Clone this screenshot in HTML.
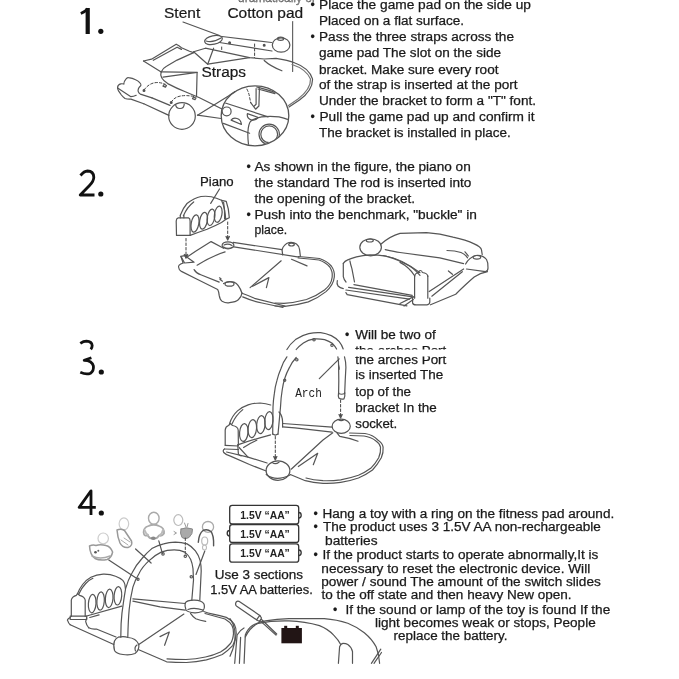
<!DOCTYPE html>
<html><head><meta charset="utf-8">
<style>
html,body{margin:0;padding:0;background:#fff;}
body{width:679px;height:679px;overflow:hidden;position:relative;}
svg{position:absolute;left:0;top:0;will-change:transform;}
.t{font-family:"Liberation Sans",sans-serif;font-size:12.3px;fill:#1a1a1a;stroke:#1a1a1a;stroke-width:0.25;}
.l{font-family:"Liberation Sans",sans-serif;font-size:14px;fill:#1a1a1a;stroke:#1a1a1a;stroke-width:0.2;}
.m{font-family:"Liberation Mono",monospace;font-size:12px;fill:#222;}
.b{font-family:"Liberation Sans",sans-serif;font-size:10px;font-weight:bold;fill:#222;}
.d{fill:none;stroke:#555;stroke-width:1.2;stroke-linecap:round;stroke-linejoin:round;}
.dd{fill:none;stroke:#444;stroke-width:1;stroke-dasharray:2.5 2;}
.n{fill:none;stroke:#111;stroke-width:2.8;stroke-linecap:butt;stroke-linejoin:round;}
</style></head>
<body>
<svg width="679" height="679" viewBox="0 0 679 679">
<!-- ===== step numbers ===== -->
<g id="nums">
  <path class="n" d="M80.8,13.5 Q85,11.8 87.8,8.6"/>
  <rect x="85.6" y="8" width="4.2" height="26" fill="#111"/>
  <circle cx="100.8" cy="31.3" r="2.6" fill="#111"/>
  <path class="n" d="M80.5,175.5 Q84,171.2 87.5,171 Q93.6,171.2 93.8,177.2 Q93.8,181 89.5,185.5 L80.2,195 L94.5,195"/>
  <circle cx="100.8" cy="194" r="2.6" fill="#111"/>
  <path class="n" d="M80.3,343.4 Q83.5,341.2 86.5,341.2 Q91.8,341.5 92.2,345.6 Q92.2,347.6 90.8,349.3"/>
  <path class="n" d="M91.4,357.8 L84.2,360.3 Q92.2,360.5 93.4,366 Q94,371 90.5,373.2 Q86.5,375 80.3,372.3"/>
  <circle cx="101.3" cy="372" r="2.6" fill="#111"/>
  <path class="n" d="M91,515 L91,490.8 L79.2,507.4 L95.8,507.4"/>
  <circle cx="101.3" cy="513" r="2.6" fill="#111"/>
</g>

<!-- ===== text section 1 ===== -->
<g id="txt1">
  <text class="t" x="238" y="1.8" textLength="78" lengthAdjust="spacingAndGlyphs" style="fill:#999">dramatically or</text>
  <text class="t" x="310.5" y="8.7">•</text>
  <text class="t" x="319" y="8.7" textLength="212" lengthAdjust="spacingAndGlyphs">Place the game pad on the side up</text>
  <text class="t" x="319" y="24.6" textLength="145" lengthAdjust="spacingAndGlyphs">Placed on a flat surface.</text>
  <text class="t" x="310.5" y="40.9">•</text>
  <text class="t" x="319" y="40.9" textLength="195" lengthAdjust="spacingAndGlyphs">Pass the three straps across the</text>
  <text class="t" x="319" y="57.4" textLength="182" lengthAdjust="spacingAndGlyphs">game pad The slot on the side</text>
  <text class="t" x="319" y="73.9" textLength="179.5" lengthAdjust="spacingAndGlyphs">bracket. Make sure every root</text>
  <text class="t" x="319" y="89.4" textLength="198.6" lengthAdjust="spacingAndGlyphs">of the strap is inserted at the port</text>
  <text class="t" x="319" y="104.9" textLength="217" lengthAdjust="spacingAndGlyphs">Under the bracket to form a "T" font.</text>
  <text class="t" x="310.5" y="121.1">•</text>
  <text class="t" x="319.5" y="121.1" textLength="215" lengthAdjust="spacingAndGlyphs">Pull the game pad up and confirm it</text>
  <text class="t" x="319" y="136.5" textLength="191.7" lengthAdjust="spacingAndGlyphs">The bracket is installed in place.</text>
  <text class="l" x="164" y="17.7" textLength="36.2" lengthAdjust="spacingAndGlyphs">Stent</text>
  <text class="l" x="227.4" y="17.5" textLength="75.8" lengthAdjust="spacingAndGlyphs">Cotton pad</text>
  <text class="l" x="201.5" y="77.3" textLength="44.5" lengthAdjust="spacingAndGlyphs">Straps</text>
</g>

<!-- ===== text section 2 ===== -->
<g id="txt2">
  <text class="t" x="246.5" y="170.9">•</text>
  <text class="t" x="254.5" y="170.9" textLength="216.2" lengthAdjust="spacingAndGlyphs">As shown in the figure, the piano on</text>
  <text class="t" x="254.5" y="187.2" textLength="216.9" lengthAdjust="spacingAndGlyphs">the standard The rod is inserted into</text>
  <text class="t" x="254.5" y="202.9" textLength="160.5" lengthAdjust="spacingAndGlyphs">the opening of the bracket.</text>
  <text class="t" x="246.5" y="218.6">•</text>
  <text class="t" x="254.5" y="218.6" textLength="222.4" lengthAdjust="spacingAndGlyphs">Push into the benchmark, "buckle" in</text>
  <text class="t" x="254.5" y="234.1" textLength="32.7" lengthAdjust="spacingAndGlyphs">place.</text>
  <text class="t" x="200" y="186.3" textLength="33.7" lengthAdjust="spacingAndGlyphs">Piano</text>
</g>

<!-- ===== text section 3 ===== -->
<g id="txt3">
  <text class="t" x="345" y="339.4">•</text>
  <text class="t" x="355.3" y="339.4" textLength="80.4" lengthAdjust="spacingAndGlyphs">Will be two of</text>
  <clipPath id="cA"><rect x="340" y="340" width="120" height="9.5"/></clipPath>
  <clipPath id="cB"><rect x="340" y="356.5" width="120" height="12"/></clipPath>
  <text class="t" clip-path="url(#cA)" x="355.3" y="355" textLength="91" lengthAdjust="spacingAndGlyphs">the arches Port</text>
  <text class="t" clip-path="url(#cB)" x="355.3" y="363.5" textLength="91" lengthAdjust="spacingAndGlyphs">the arches Port</text>
  <text class="t" x="355.3" y="379.4" textLength="87.9" lengthAdjust="spacingAndGlyphs">is inserted The</text>
  <text class="t" x="355.3" y="395.6" textLength="55.7" lengthAdjust="spacingAndGlyphs">top of the</text>
  <text class="t" x="355.3" y="412" textLength="81.3" lengthAdjust="spacingAndGlyphs">bracket In the</text>
  <text class="t" x="355.3" y="428" textLength="41.9" lengthAdjust="spacingAndGlyphs">socket.</text>
  <text class="m" x="295.2" y="396.5" textLength="26.7" lengthAdjust="spacingAndGlyphs">Arch</text>
</g>

<!-- ===== text section 4 ===== -->
<g id="txt4">
  <text class="t" x="313.5" y="518">•</text>
  <text class="t" x="322.5" y="518" textLength="291.7" lengthAdjust="spacingAndGlyphs">Hang a toy with a ring on the fitness pad around.</text>
  <text class="t" x="313.5" y="531.3">•</text>
  <text class="t" x="323" y="531.3" textLength="277.8" lengthAdjust="spacingAndGlyphs">The product uses 3 1.5V AA non-rechargeable</text>
  <text class="t" x="325" y="544.6" textLength="52.6" lengthAdjust="spacingAndGlyphs">batteries</text>
  <text class="t" x="313.5" y="558.9">•</text>
  <text class="t" x="322.5" y="558.9" textLength="275.9" lengthAdjust="spacingAndGlyphs">If the product starts to operate abnormally,It is</text>
  <text class="t" x="321.3" y="572.7" textLength="268.9" lengthAdjust="spacingAndGlyphs">necessary to reset the electronic device. Will</text>
  <text class="t" x="321.3" y="586.4" textLength="279.5" lengthAdjust="spacingAndGlyphs">power / sound The amount of the switch slides</text>
  <text class="t" x="321.6" y="599.4" textLength="250" lengthAdjust="spacingAndGlyphs">to the off state and then heavy New open.</text>
  <text class="t" x="333" y="613.8">•</text>
  <text class="t" x="345.4" y="613.8" textLength="264.8" lengthAdjust="spacingAndGlyphs">If the sound or lamp of the toy is found If the</text>
  <text class="t" x="375" y="627.3" textLength="220.7" lengthAdjust="spacingAndGlyphs">light becomes weak or stops, People</text>
  <text class="t" x="393.6" y="639.9" textLength="113.9" lengthAdjust="spacingAndGlyphs">replace the battery.</text>
  <text class="t" x="214.7" y="578.6" textLength="88.4" lengthAdjust="spacingAndGlyphs">Use 3 sections</text>
  <text class="t" x="210.3" y="593.7" textLength="102.5" lengthAdjust="spacingAndGlyphs">1.5V AA batteries.</text>
  <!-- batteries -->
  <g fill="none" stroke="#333" stroke-width="1.3">
    <rect x="229.7" y="505.3" width="69" height="18.6" rx="2.5"/>
    <rect x="229.7" y="524.7" width="69" height="17.7" rx="2.5"/>
    <rect x="229.7" y="543.8" width="69" height="18.4" rx="2.5"/>
    <path d="M298.7,512.5 q2.5,0 2.5,2.8 q0,2.8 -2.5,2.8"/>
    <path d="M229.7,530.5 q-2.5,0 -2.5,2.8 q0,2.8 2.5,2.8"/>
    <path d="M298.7,550 q2.5,0 2.5,2.8 q0,2.8 -2.5,2.8"/>
  </g>
  <text class="b" x="240.3" y="518.6" textLength="49.5" lengthAdjust="spacingAndGlyphs">1.5V “AA”</text>
  <text class="b" x="240.3" y="537.6" textLength="49.5" lengthAdjust="spacingAndGlyphs">1.5V “AA”</text>
  <text class="b" x="240.3" y="556.6" textLength="49.5" lengthAdjust="spacingAndGlyphs">1.5V “AA”</text>
</g>

<!-- ===== drawings ===== -->
<g id="draw1" class="d">
  <!-- leaders -->
  <path d="M183,22 L219.5,35.5"/>
  <path d="M292.6,21.5 L292.6,71.5" stroke="#666"/>
  <!-- stent piece -->
  <ellipse cx="213.5" cy="40" rx="9" ry="4.3" transform="rotate(-12 213.5 40)"/>
  <path d="M206,41 Q213,43 221,38"/>
  <!-- upper bar -->
  <path d="M222,36.5 L271.5,42.5"/>
  <path d="M219.5,42.5 L272,51"/>
  <circle cx="229.6" cy="42.8" r="0.9" fill="#333"/>
  <circle cx="264.2" cy="45.2" r="0.9" fill="#333"/>
  <path class="dd" d="M254.6,44 L254.6,57.6"/>
  <path class="dd" d="M221.7,47 L221.7,50.5"/>
  <!-- right ball -->
  <ellipse cx="281.1" cy="45" rx="8.8" ry="7.2"/>
  <ellipse cx="280.6" cy="38.8" rx="3" ry="1.6"/>
  <!-- flap -->
  <path d="M143.5,61 L151.5,59.2 L176.2,44.2 Q179,45.5 181.5,47.7 L189.5,51.3 L193.6,52.6"/>
  <path d="M153.3,60.3 L177.1,47.2 L181.5,49.4"/>
  <path d="M143.5,61 L161.2,72"/>
  <path d="M161.2,72 Q163,68 166.5,66.3 L177.1,60.1 L193.6,52.6"/>
  <!-- mat top edge -->
  <path d="M193.6,51.8 L205.4,48.2 L249.5,57.6 L264.2,59 L276,58.3 Q288,60 295,63 Q309,68 312.5,78.9 Q313,90 299.5,100 L289,107"/>
  <path d="M292,64.5 Q306,69 310.5,79 Q311,89 298,99 L288.5,105.5" stroke="#777"/>
  <path d="M264.2,60.5 Q270,66 281.9,70.8"/>
  <!-- straps -->
  <path d="M193.6,51.8 L207.7,64.2 L213.6,48.2"/>
  <path d="M207.7,64.2 L249.5,57.6"/>
  <path d="M161.8,71.8 L197.1,72.4 L163,77.1"/>
  <path d="M197.1,72.4 L196.5,96.6"/>
  <!-- front-left mat curve -->
  <path d="M161.2,71.8 Q159,78 167.7,83.6 Q176,88 185.3,91.8 L199.5,97.7 L216,106 L222,109"/>
  <path d="M164,84.5 l2.5,1 l-1,1.6 l-2.5,-1 z"/>
  <path d="M193.5,97 l2.5,1 l-1,1.6 l-2.5,-1 z"/>
  <path class="dd" d="M144,90 Q152,79 165.3,84.2"/>
  <path class="dd" d="M171.2,102.4 Q176,93 194.8,96.6"/>
  <circle cx="144" cy="90.5" r="0.9" fill="#333"/>
  <circle cx="171.2" cy="102.4" r="0.9" fill="#333"/>
  <!-- foot pad -->
  <path d="M117.6,87.3 Q117.8,84.5 120.8,83.8 Q123,83.6 123.8,84.1 Q124,81 126.1,78.8 Q127.5,77.4 128.5,77.6 Q132.5,78 135.6,79.7 Q138.5,81 139.7,82.6 Q141.5,84.5 140.9,85.5 Q139,87 138.5,88.5 Q137.8,90.5 138.2,91.4 Q139,93.3 140.3,94.1 L152,97.9"/>
  <path d="M117.6,87.3 Q117.5,89.5 118.5,90.9 Q120,93 121.4,95 Q123,97 125,98.5 Q127.5,99.4 130.9,99.1 L143.8,103.8"/>
  <path d="M117.6,87.9 L130.9,96.7 Q133.5,96.5 136.2,95.3"/>
  <!-- arm -->
  <path d="M152,97.9 L170,105.4"/>
  <path d="M143.8,103.8 L168.9,115.4"/>
  <!-- ball -->
  <circle cx="182" cy="116" r="13.3"/>
  <path d="M175.6,104.5 Q176,108.5 180,108.5 Q184,108.5 184.2,104.2"/>
  <!-- lines to magnifier -->
  <path d="M197.5,115.2 L228.4,96 L235,91.6"/>
  <path d="M197.5,115.2 L221.1,118.5"/>
  <!-- magnifier -->
  <ellipse cx="255" cy="115.8" rx="33.8" ry="30" stroke-width="1.3"/>
  <clipPath id="mag"><ellipse cx="255" cy="115.8" rx="33.3" ry="29.5"/></clipPath>
  <g clip-path="url(#mag)">
  <path d="M224.5,102.7 L268.1,116.9"/>
  <path d="M223.4,123.4 L249.6,133.2"/>
  <path d="M248.5,144.5 Q247.5,136 248,131 Q248.5,124 250.7,121.2 Q255,118 261.6,116.9 Q270,115.8 279,116.9 Q284,118 288.3,119.6"/>
  <circle cx="269.2" cy="134.3" r="10.2"/>
  <circle cx="269.2" cy="134.3" r="8.4"/>
  <circle cx="226.7" cy="111.4" r="4.4"/>
  <path d="M231.1,120.1 Q233,117.5 237,118.5 Q241,119.5 241.4,124.5 Z"/>
  <path d="M247.4,113.6 Q246.5,118.5 251.8,120.1 Q256,120.5 258.3,117.5 Z"/>
  <path d="M256.1,88.5 L256.1,104.3 L254.3,106"/>
  <path d="M259.4,88.5 L258.9,106 L255.6,109.2 L250.7,102.7"/>
  <path class="dd" d="M246.9,89.1 Q249,93 249.6,97.3 L250.7,102.7"/>
  <path d="M256.7,86.9 L275.8,92.4 M258,89 L275,93.6"/>
  </g>
</g>
<g id="draw2" class="d">
  <!-- piano -->
  <path d="M219.5,189 L210.7,203.4"/>
  <path d="M180.3,215.3 Q183,208 187,203.5 Q194,198 201,196.5 Q210,195.5 216.4,198.2 L221.5,200.3"/>
  <path d="M183.4,215.8 Q187,207 193.7,201.9"/>
  <path d="M180.3,215.3 L180.3,217.8 M183.9,215.5 L183.9,217.8"/>
  <path d="M178.2,217.8 L188.5,217.8 Q190.1,218.5 190.1,221 L190.1,235.4 L176.5,235.4 L176.2,221 Q176.3,218.3 178.2,217.8 Z"/>
  <ellipse cx="195" cy="223.5" rx="3.8" ry="8.8" transform="rotate(10 195 223.5)"/>
  <ellipse cx="203.5" cy="220.7" rx="3.8" ry="8.5" transform="rotate(10 203.5 220.7)"/>
  <ellipse cx="211" cy="217.3" rx="3.7" ry="8.3" transform="rotate(10 211 217.3)"/>
  <ellipse cx="218.2" cy="214.2" rx="3.7" ry="8.2" transform="rotate(10 218.2 214.2)"/>
  <path d="M221.5,200.3 L226.2,201.3 Q229,209 229.3,217.8 L225.7,219.4 Q225,208 221.5,200.3 Z"/>
  <path d="M223.6,202.4 Q225,210 224.6,218.9"/>
  <path d="M190.1,235.4 Q199,232 207.1,229.2 Q215,226 221.5,222.5 L225.7,219.4"/>
  <path class="dd" d="M186,238.5 L186,256"/>
  <path d="M184.3,254.5 L186,258 L187.7,254.5" fill="#444"/>
  <path class="dd" d="M227.7,222 L227.7,237"/>
  <path d="M226,236.5 L227.7,240 L229.4,236.5" fill="#444"/>
  <!-- left mat -->
  <path d="M180.9,256.4 L184.6,255.6 L194.1,262.2 L184.6,263 Z"/>
  <path d="M180.9,256.4 L183.1,263"/>
  <path d="M186,257.8 L195.6,251.2 L211.1,241.6 L223.6,248.3"/>
  <ellipse cx="228" cy="245.3" rx="5.9" ry="3.5"/>
  <path d="M224,245 Q228,243 232,245.5 M223.5,247 Q228,249.5 233,247"/>
  <path d="M233.2,242.4 L282,249.7"/>
  <path d="M233.9,246.8 L298.9,257.1"/>
  <path d="M183.1,263 Q177.5,265 178.7,267.5 Q179,270 180.9,271.1 L197.1,279.2 L217.7,289.5 Q219,292 219.2,295.4 Q220,300 222.1,301.3 Q226,303.5 229.5,302.7 Q236,302 238.3,299.8 Q241.5,297 242,293.2"/>
  <path d="M223.6,283.6 Q228,281 233.9,282.1 Q239,284 242,293.2"/>
  <ellipse cx="229.5" cy="283.9" rx="4.5" ry="2.2"/>
  <path d="M242,293.2 Q250,296 254.5,298.3 L285,306"/>
  <path d="M242.7,296.9 Q252,301 262,303 L283,307.5"/>
  <path d="M197.1,265.2 Q212,256 225.1,251.9"/>
  <path d="M194.1,269.6 Q196,273 200.8,274.8 L219.2,282.1"/>
  <path d="M220,279.5 L222.5,281.2 M219.5,277.8 L221,278.8"/>
  <path d="M281.2,260.8 L250.1,287.6"/>
  <path d="M252.6,286.3 L268.9,277.6 L266.4,287.6"/>
  <path d="M282.7,254.9 L282,249.7 Q284,244 289,242.5 Q293.5,241.8 296.5,244 Q299.6,246.5 299.6,249.7 L300.4,256.4"/>
  <ellipse cx="291.5" cy="244.6" rx="2.8" ry="1.4"/>
  <path d="M298.2,256.5 Q310,257.5 319.5,258.5 Q327,261 331.3,266 Q335,271 334.3,277 Q333.5,285 326,291.6 Q318,298 308.3,301.9 Q296,305.5 284.7,306.3 L275,306"/>
  <path d="M298.2,258 Q310,258.8 319,260 Q326,262.5 329.8,267 Q332.8,271.5 332.2,277 Q331.5,284.5 324.5,290 Q316.5,296 306.5,299.5 Q294.5,302.7 284,303.3 L275,303"/>
  <path d="M291.5,259.3 L307,265.9"/>
  <!-- right mat -->
  <ellipse cx="370.6" cy="247.3" rx="10.8" ry="8.5"/>
  <ellipse cx="369.8" cy="240.5" rx="3.5" ry="1.5"/>
  <path d="M380.8,244.2 Q390,236 400,233.3 L426.5,232.6 Q440,233.5 453,237.2 Q466,240 474.2,243.9 Q481,247 481.5,249.8 L482.2,254.5"/>
  <path d="M385.2,249.7 Q395,252 400,252.5 L439.8,257.8 L463.6,263.7"/>
  <path d="M447,250.5 Q455,250.5 461,252.5 Q465,254 467.6,257.8"/>
  <path d="M465,251.8 Q467,254 468.3,256"/>
  <path d="M465.6,264 Q469,257.5 476,255.5 Q483,255 486.5,259.5 Q488.5,263 488,268 Q488,271 485.5,271.7 L466.5,269"/>
  <ellipse cx="476.9" cy="257.3" rx="3.8" ry="1.8"/>
  <path d="M343.3,263.4 Q345,261 347.2,260.1 Q351.5,258 356.5,256.8 Q363,255.2 369.8,254.8 Q378,254.8 385.7,256.2 Q392.5,258 398.9,260.8 Q404.5,263.3 409.5,266.1 Q413.5,268.6 416.2,271.4 L420,275.4"/>
  <path d="M383,255.5 Q394,257.5 402,261.5 Q412,266.5 420,272.7"/>
  <path d="M343.3,263.4 L343.3,276.7 Q344,280 346,282"/>
  <path d="M349.9,260.8 Q350.5,264 351.9,268.7 L354.5,282"/>
  <path d="M337.3,280.7 Q336.5,284 338,286 Q340,288 343.3,288.6"/>
  <path d="M345.9,290 L409.5,299.2"/>
  <path d="M345.9,292.6 L347.2,294.6 L406.9,305.9"/>
  <path d="M353.9,284.6 L412.2,295.3"/>
  <path d="M348.6,287.3 Q380,292 414.6,297.2"/>
  <path d="M414.6,275.7 L414.6,298.2 M427.8,275.7 L427.8,298.2"/>
  <path d="M414.6,276.5 Q415,273 418.5,272.5 Q419,270.5 420.5,270.5 Q422,270.5 422.3,272.5 Q427.5,273 427.8,276.5"/>
  <path d="M412.6,298.2 L412.6,303 Q413,304.8 416,304.8 L427,304.8 Q429.8,304.5 429.8,302 L429.8,298.2"/>
  <path d="M429.2,291.6 L463.6,269"/>
  <path d="M431.8,296.2 L462.3,271.7"/>
  <path d="M448.4,271 L452.4,274.3"/>
  <path d="M430.5,304.8 Q444,299 455.7,294.2 Q466,284 474.2,277 Q480,273 487.5,271.7"/>
  <path d="M400,262.4 Q409,267 414.6,275.7"/>
  <path d="M400,303.5 L413.3,296.9 M404,306 L413.3,299.5"/>
</g>
<g id="draw3" class="d">
  <!-- arch top (above glitch) -->
  <path d="M286.9,349.5 Q290,344 295.5,339.6 Q302,335 308.7,333.6 Q315,332.3 320.7,332.7 Q326,333.5 331.3,335.6 Q336,338 339.2,341.6 Q342,345 343.2,349"/>
  <path d="M296.2,349.5 Q299,346 303.4,342.9 Q308,340 314,338.9 Q319,338.5 324.6,339.6 Q329,341 332.6,343.6 Q335,346 336.6,349"/>
  <circle cx="314" cy="339.8" r="1.2"/>
  <circle cx="332" cy="345.3" r="1.2"/>
  <!-- arch legs (below glitch) -->
  <path d="M286.9,356.8 Q283,362 280.9,368.7 Q278.5,374 276.9,380.7 Q275,387 274.3,393.9 Q273.3,400 273,407 L272.7,434.1"/>
  <path d="M296.2,357.5 Q292,362 289.5,367.4 Q286.5,373 284.9,378 Q283,384 282.2,390 Q281,397 280.5,407 L278,434.1"/>
  <path d="M272.7,434.1 Q275.3,436 278,434.1"/>
  <circle cx="296.8" cy="359.8" r="1.2"/>
  <circle cx="284.7" cy="380.3" r="1.1"/>
  <path d="M344.5,356.8 Q346,362 345.9,367.4 L345.2,380.7 L344.7,393"/>
  <path d="M337.9,356.8 Q338.6,361 338.6,364.8 L338.8,380.7 L338.6,393"/>
  <path d="M338.6,392.6 Q338,396 338.8,398 Q341,399.6 344,398.8 Q345.3,396 344.7,392.6"/>
  <path d="M338.6,393.5 Q341.5,395 344.7,393.5"/>
  <path d="M338.5,365 Q339.5,368 339,369.5"/>
  <path d="M319.3,378.7 L339.2,358.8"/>
  <path class="dd" d="M340.6,400 L340.6,415.5"/>
  <path d="M339,414.5 L340.6,418 L342.2,414.5" fill="#444"/>
  <path class="dd" d="M275.3,436.5 L275.3,457.5"/>
  <path d="M273.7,456.5 L275.3,460 L276.9,456.5" fill="#444"/>
  <!-- sockets -->
  <ellipse cx="341.2" cy="426.3" rx="9.1" ry="7.1"/>
  <path d="M338.2,419.6 Q341.2,421.8 344.2,419.6"/>
  <ellipse cx="278" cy="470.6" rx="11.9" ry="9.8"/>
  <path d="M272.3,462.6 Q275.3,465 279,462.3"/>
  <!-- piano -->
  <path d="M229.6,423.5 Q232,416 237.5,410.9 Q242,407 248.1,404.9 Q254,403 260.1,403 Q266,403.5 270.7,405"/>
  <path d="M232.2,423.5 Q236,415 242.8,409.6"/>
  <path d="M225.2,445.3 L225.2,430 Q225.5,426.5 228.5,425.5 L230.5,423.5 L232.5,425.5 Q237.8,426.5 238.2,430 L238.4,445.3"/>
  <path d="M225.2,445.3 L238.4,446 M224.5,449 L238.4,449.5"/>
  <ellipse cx="243.8" cy="432.5" rx="4.2" ry="9" transform="rotate(5 243.8 432.5)"/>
  <ellipse cx="252.3" cy="428.6" rx="4.2" ry="9" transform="rotate(5 252.3 428.6)"/>
  <ellipse cx="260.9" cy="424.6" rx="4.2" ry="9" transform="rotate(5 260.9 424.6)"/>
  <ellipse cx="268.9" cy="420.6" rx="4.1" ry="9" transform="rotate(5 268.9 420.6)"/>
  <path d="M279,412 Q282.6,416 282.6,422 L282.6,427"/>
  <path d="M238.4,444.6 Q255,439 270.7,434.8"/>
  <path d="M243.6,447.5 Q250,443 256.8,440.2"/>
  <!-- mat -->
  <path d="M224.5,449 Q222.5,450 223.7,452.5 Q226,455 231,456.4 L249.5,464.5 L266.2,471"/>
  <path d="M226.6,452 L248,457.1 L267.1,463"/>
  <path d="M237.7,444.6 L238.4,454.1 Q239,455.5 241,455.8"/>
  <path d="M239.1,447.5 L248,457.1"/>
  <path d="M282.6,423.5 L332.1,427.2"/>
  <path d="M282.6,426.8 L295,427.9 L332.1,432.1"/>
  <path d="M291.2,469.2 L323,440 L332.8,432.8"/>
  <path d="M298.3,466.5 L317.7,453.3 L313.3,464.7"/>
  <path d="M337,432.8 Q339,435.5 339.8,436.3 Q350,438 358,441.2"/>
  <path d="M349.6,433 L365,433.5 Q373,434.8 377.8,440 Q382.5,443 383.1,447.1 Q383.6,452.5 381.3,457.7 Q377.5,464.5 372.5,470 Q366,474.8 358.4,478 Q350,481 340.7,482.4 Q332,483.6 323,483.3 Q313,482.8 305.3,480.7 L290.3,474.5"/>
  <path d="M350,435.5 L364,436 Q371,437 376,441 Q379.8,443.5 380.5,447.1 Q381,452.5 378.7,457.7 Q375.5,463.5 370.7,468.3 Q365,472.5 358.4,475.3 Q350,478.3 340.7,479.8 Q332,481 323,480.7 Q313,480 306,478"/>
  <path d="M266.2,474.5 Q276,482 290,475"/>
</g>
<g id="draw4" class="d">
  <!-- toys (light gray) -->
  <g fill="none" stroke-linecap="round">
    <ellipse cx="103.2" cy="538.4" rx="5.2" ry="5.4" stroke="#ccc" stroke-width="1.2"/>
    <path d="M89.5,546 Q93,544.5 96,545.5 Q100,544 106,545.5 Q110.5,546.5 112.6,552 Q111.5,558 107,559.5 Q100,561 95,558.5 Q90,555 89.5,546 Z" stroke="#999" stroke-width="1.5"/>
    <path d="M92,556 Q100,560 110,556" stroke="#aaa" stroke-width="1.5"/>
    <circle cx="95.5" cy="552.3" r="1.3" fill="#555" stroke="none"/>
    <circle cx="98.3" cy="550.8" r="1" fill="#666" stroke="none"/>
    <ellipse cx="123.9" cy="523.8" rx="4.8" ry="6" stroke="#ccc" stroke-width="1.2"/>
    <path d="M117,530 Q121,528.5 124.5,530.5 L131.5,541 Q133,546 128,547.5 Q122.5,548 120,543 Q117.5,537 117,530 Z" stroke="#999" stroke-width="1.5"/>
    <path d="M121,540 L128,545 M124,538 L130,542" stroke="#aaa" stroke-width="1"/>
    <ellipse cx="153.8" cy="518.3" rx="5.3" ry="6" stroke="#aaa" stroke-width="1.4"/>
    <path d="M148.5,526 Q153.8,523.5 159,526 Q164.5,527.5 164,533.5 Q162,536.5 159,535.5 Q157,539 153.5,538.5 Q149.5,539 147.8,535.5 Q144,536.5 143.6,532.5 Q143.5,527.5 148.5,526 Z" stroke="#aaa" stroke-width="1.8"/>
    <path d="M144.5,530 Q146,534 148,535 M163,530 Q162,534 160,535" stroke="#bbb" stroke-width="2"/>
    <ellipse cx="153.3" cy="538.2" rx="2.4" ry="1.8" fill="#888" stroke="none"/>
    <ellipse cx="178.3" cy="520.1" rx="4.5" ry="5.4" stroke="#bbb" stroke-width="1.2"/>
    <path d="M181,529 Q186,526.5 192.5,529 Q193,534 189,537.5 Q185,540 182,537.5 Q179.5,533 181,529 Z" fill="#aaa" stroke="#888" stroke-width="1"/>
    <path d="M184.5,523 L186,527 M188,523.5 L187,527" stroke="#999" stroke-width="1"/>
    <path d="M174,531.5 L176.5,533 L174,534.5" stroke="#999" stroke-width="1"/>
    <ellipse cx="208" cy="526.9" rx="5.6" ry="5.4" stroke="#aaa" stroke-width="1.3"/>
    <path d="M198.3,542.2 Q199,533.5 203,530.5 Q207.1,528.5 211,531.5 Q214,535.5 213.6,545.7" stroke="#555" stroke-width="1.4"/>
    <ellipse cx="204.7" cy="541" rx="3" ry="4" stroke="#bbb" stroke-width="1.2"/>
    <ellipse cx="204.5" cy="547.5" rx="2" ry="2.5" stroke="#bbb" stroke-width="1.1"/>
  </g>
  <!-- leaders -->
  <path d="M108.8,560.1 L137.6,578.9"/>
  <path d="M135.6,549 L151.1,563"/>
  <path d="M158.8,540.9 L162.4,553.3"/>
  <path class="dd" d="M185.3,538 L185.3,554.5"/>
  <path d="M204.8,551 L196,574.5"/>
  <!-- arch -->
  <path d="M120.8,637.2 L121.1,623.9 Q121.8,612 123.3,603.3 Q124.5,595 125.6,588.6 Q128,580 132,573 Q136,565 142,558.5 Q147,552.5 151.8,548.6 Q157,545.5 163.6,543.9 Q169,542.3 175.3,542.1 Q181.5,542.3 187.1,543.9 Q192,546.5 195.4,550.9 Q198.5,555 200.1,560.4 Q201.2,565.5 201.2,571 L199.8,600.2"/>
  <path d="M127.8,637.2 Q128.2,620 129.2,609.2 Q130.5,597 132.9,587.1 Q135,580 138.8,574 Q142,567 149.4,560.4 Q155,555 161.2,552.1 Q167,549.8 174.2,549.8 Q180,549.8 184.8,552.1 Q188.5,555 190.6,559.2 Q192.3,563 193,568.6 L193.5,580 L191.8,600.2"/>
  <circle cx="163" cy="553.9" r="1.2"/>
  <circle cx="185.3" cy="556.3" r="1.2"/>
  <circle cx="191.3" cy="576.8" r="1.2"/>
  <circle cx="138" cy="579.3" r="1.1"/>
  <!-- sockets -->
  <path d="M118.2,637.2 Q124,636 128,637.5 Q136,638 138.8,644.5 Q139.5,650 135,653.5 Q130,655.5 123,654.5 Q116,653.5 114.5,650.4 Q113,645 114.5,641 Q116,638 118.2,637.2 Z"/>
  <path d="M137,645 Q134,647 135.5,651"/>
  <path d="M185.2,603 Q187,600 194.5,600.2 Q202,600.5 204,604 Q205.5,609 202,611.5 Q198,613 194.5,612.8 Q188,612.5 186,610 Q184.5,606 185.2,603 Z"/>
  <path d="M188,609.5 Q194,607 203,610"/>
  <!-- piano -->
  <path d="M77.5,593.8 Q79.5,588.5 82.6,584.5 Q86,580 90.9,577.3 Q96.5,574.5 103.2,574.2 Q110,574 115.6,576.2 Q120.5,578 122.8,580.4 Q124.5,582.5 124.9,584.5 L125.4,588.6"/>
  <path d="M79,593.8 Q81.5,588 85.7,583.5 Q89,580 92.9,578.3"/>
  <path d="M71.3,616.5 L71.3,600 Q72,596.5 76.4,595.3 L77.5,593.5 L79.5,595.3 Q84.5,596.5 85.2,600 L85.2,616.5"/>
  <path d="M70.2,616.2 L86.7,616.2 L86.7,619.5 L70.2,619.5 Z"/>
  <ellipse cx="92.2" cy="603.6" rx="3.8" ry="9.2" transform="rotate(4 92.2 603.6)"/>
  <ellipse cx="100.6" cy="601" rx="3.7" ry="9.2" transform="rotate(4 100.6 601)"/>
  <ellipse cx="109.2" cy="598.4" rx="3.8" ry="9.2" transform="rotate(4 109.2 598.4)"/>
  <ellipse cx="117.9" cy="595.8" rx="3.8" ry="9.2" transform="rotate(4 117.9 595.8)"/>
  <path d="M86.7,616 L121.8,606.1"/>
  <path d="M86.7,618 Q85.5,622 85.7,621.6 Q86.5,625.5 88.8,627.8"/>
  <path d="M89.8,617.5 L99.1,614.9"/>
  <path d="M70.2,617.5 Q66.5,619.5 67.7,620.6 Q68.5,623.5 70.2,624.7"/>
  <!-- mat left -->
  <path d="M70.2,624.7 L113.8,644.5"/>
  <path d="M88.8,627.8 Q92,629.5 96.4,629 L116,637"/>
  <path d="M132.9,598.9 L185.2,603.5"/>
  <path d="M132.9,601.1 L160,606.8 L185.2,610.1"/>
  <path d="M138.8,644.5 L183.9,614.1"/>
  <path d="M164.6,645.3 L169.3,632 L160,636.6"/>
  <path d="M190.5,613.4 Q193,617 195.8,618.7 Q200,620.5 205.7,621.4"/>
  <path d="M203.7,611.5 Q208,613 213,614.1 Q220,615.5 226.3,617.4 Q231.5,620 234.2,624 Q236.5,628.5 236.2,633.3 Q236,640 232.9,645.3 Q228,650.5 222.3,654.5 Q214,658 206.4,659.8 Q196,661.8 186.5,662.5 Q175,662.5 166.6,661.8 L138.8,649.7"/>
  <path d="M205,613.5 L225,619 Q230,622 232,625.5 Q233.8,629 233.5,633.5 Q233,640 230.5,643.5 Q226,649 220.5,652 Q213,655.5 205.5,657 Q195.5,659.2 186,659.5 Q175,659.5 167,658.8"/>
  <!-- second mat -->
  <path d="M244.1,663.3 L245.3,635 Q248,628.5 252.4,625.6 Q258,622 265.3,620.9 Q277,619 288.9,618.6 L324.2,618.6 Q337,619.5 347.8,623.3 Q357,627 364.3,632.7 Q372,639 376.1,646.8 Q379,654 379.6,663.3"/>
  <path d="M245.3,637 Q250,627 258.3,623.3 Q272,620.5 288.9,620.9 Q305,621.5 319.5,625.6 Q328,629 333.7,635.1 Q338.5,640 340.7,644.5"/>
  <path d="M338.4,663.3 L339.6,646.8 Q341,643.3 343.1,643.3 Q346,643.3 347.8,644.5 Q351.5,647 352.5,651.5 L352.5,663.3"/>
  <path d="M234.7,663.3 L237.1,635 Q240,630 244,628"/>
  <path d="M239.4,663.3 L240.6,637.4"/>
  <path d="M371.4,663.3 L380.8,649.2 M374,663.3 L381.5,652.5"/>
  <path d="M230,618.6 Q234,624 234.7,630 Q235.5,637 234.7,642.1 Q233,650 230,656.3"/>
  <!-- screwdriver -->
  <path d="M236.3,601.8 Q234.5,604.5 237.1,606.6 L256.5,619.8 L259.8,615.4 L240.4,602.2 Q238,600.5 236.3,601.8 Z"/>
  <path d="M256.5,619.8 L259.5,621.5 L261.5,618 L259.8,615.4"/>
  <path d="M260,620.6 L276,635.1 M261.3,619.3 L276.7,634"/>
  <!-- battery -->
  <rect x="281.4" y="628" width="20.5" height="15.3" fill="#221515" stroke="none"/>
  <rect x="284.2" y="625.8" width="3" height="3" fill="#221515" stroke="none"/>
  <rect x="295.8" y="625.8" width="3" height="3" fill="#221515" stroke="none"/>
</g>
</svg>
</body></html>
